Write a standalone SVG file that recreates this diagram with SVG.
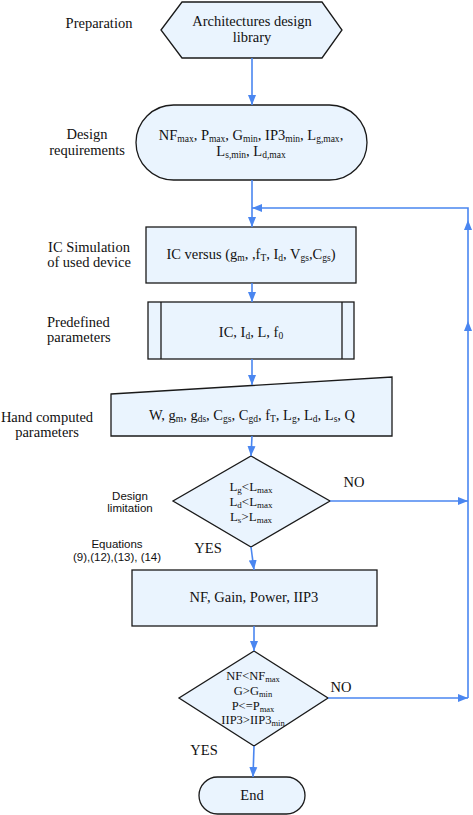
<svg xmlns="http://www.w3.org/2000/svg" width="473" height="815" viewBox="0 0 473 815">
<style>
.n{fill:#EAF4FE;stroke:#1a1a1a;stroke-width:1.3}
.t{font-family:"Liberation Serif","Times New Roman",serif;font-size:14.5px;fill:#111;text-anchor:middle}
.s{font-family:"Liberation Sans",Arial,sans-serif;font-size:11.5px;fill:#111;text-anchor:middle}
.d{font-size:13px}
.e{font-size:12.5px}
.c{fill:none;stroke:#4A86F0;stroke-width:1.6}
</style>
<defs>
<marker id="ah" markerUnits="userSpaceOnUse" markerWidth="10" markerHeight="10" viewBox="0 0 10 10" refX="10" refY="5" orient="auto">
<path d="M0,1 L10,5 L0,9 Z" fill="#4A86F0"/>
</marker>
</defs>
<rect width="473" height="815" fill="#fff"/>

<g id="labels">
<text class="t" x="99" y="28">Preparation</text>
<text class="t" x="87" y="139">Design</text>
<text class="t" x="87" y="155">requirements</text>
<text class="t" x="89" y="252">IC Simulation</text>
<text class="t" x="89" y="267">of used device</text>
<text class="t" x="47" y="327" style="text-anchor:start">Predefined</text>
<text class="t" x="47" y="342" style="text-anchor:start">parameters</text>
<text class="t" x="47" y="422">Hand computed</text>
<text class="t" x="47" y="437">parameters</text>
<text class="s" x="130" y="500">Design</text>
<text class="s" x="130" y="512">limitation</text>
<text class="s" x="117" y="548">Equations</text>
<text class="s" x="117" y="561">(9),(12),(13), (14)</text>
<text class="t" x="208" y="553">YES</text>
<text class="t" x="354" y="487">NO</text>
<text class="t" x="341" y="692">NO</text>
<text class="t" x="204" y="755">YES</text>
</g>

<g id="n1">
<polygon class="n" points="161,30 182,2 322,2 342,30 322,58 182,58"/>
<text class="t" x="252" y="26">Architectures design</text>
<text class="t" x="252" y="42">library</text>
</g>

<g id="n2">
<rect class="n" x="136" y="105" width="231" height="75" rx="37.5" ry="37.5"/>
<text class="t" x="251" y="140">NF<tspan font-size="9.5" dy="2">max</tspan><tspan dy="-2">, P</tspan><tspan font-size="9.5" dy="2">max</tspan><tspan dy="-2">, G</tspan><tspan font-size="9.5" dy="2">min</tspan><tspan dy="-2">, IP3</tspan><tspan font-size="9.5" dy="2">min</tspan><tspan dy="-2">, L</tspan><tspan font-size="9.5" dy="2">g,max</tspan><tspan dy="-2">,</tspan></text>
<text class="t" x="251" y="156">L<tspan font-size="9.5" dy="2">s,min</tspan><tspan dy="-2">, L</tspan><tspan font-size="9.5" dy="2">d,max</tspan></text>
</g>

<g id="n3">
<rect class="n" x="146" y="227" width="210" height="56"/>
<text class="t" x="251" y="259">IC versus (g<tspan font-size="9.5" dy="2">m</tspan><tspan dy="-2">, ,f</tspan><tspan font-size="9.5" dy="2">T</tspan><tspan dy="-2">, I</tspan><tspan font-size="9.5" dy="2">d</tspan><tspan dy="-2">, V</tspan><tspan font-size="9.5" dy="2">gs</tspan><tspan dy="-2">,C</tspan><tspan font-size="9.5" dy="2">gs</tspan><tspan dy="-2">)</tspan></text>
</g>

<g id="n4">
<rect class="n" x="148" y="302" width="206" height="57"/>
<line x1="161" y1="302" x2="161" y2="359" stroke="#1a1a1a" stroke-width="1.3"/>
<line x1="342" y1="302" x2="342" y2="359" stroke="#1a1a1a" stroke-width="1.3"/>
<text class="t" x="251" y="337">IC, I<tspan font-size="9.5" dy="2">d</tspan><tspan dy="-2">, L, f</tspan><tspan font-size="9.5" dy="2">0</tspan></text>
</g>

<g id="n5">
<polygon class="n" points="111,394 392,377 392,436 111,436"/>
<text class="t" x="252" y="420">W, g<tspan font-size="9.5" dy="2">m</tspan><tspan dy="-2">, g</tspan><tspan font-size="9.5" dy="2">ds</tspan><tspan dy="-2">, C</tspan><tspan font-size="9.5" dy="2">gs</tspan><tspan dy="-2">, C</tspan><tspan font-size="9.5" dy="2">gd</tspan><tspan dy="-2">, f</tspan><tspan font-size="9.5" dy="2">T</tspan><tspan dy="-2">, L</tspan><tspan font-size="9.5" dy="2">g</tspan><tspan dy="-2">, L</tspan><tspan font-size="9.5" dy="2">d</tspan><tspan dy="-2">, L</tspan><tspan font-size="9.5" dy="2">s</tspan><tspan dy="-2">, Q</tspan></text>
</g>

<g id="n6">
<polygon class="n" points="251,456 330,501 251,547 173,501"/>
<text class="t d" x="251" y="491">L<tspan font-size="9" dy="2">g</tspan><tspan dy="-2">&lt;L</tspan><tspan font-size="9" dy="2">max</tspan></text>
<text class="t d" x="251" y="506">L<tspan font-size="9" dy="2">d</tspan><tspan dy="-2">&lt;L</tspan><tspan font-size="9" dy="2">max</tspan></text>
<text class="t d" x="251" y="521">L<tspan font-size="9" dy="2">s</tspan><tspan dy="-2">&gt;L</tspan><tspan font-size="9" dy="2">max</tspan></text>
</g>

<g id="n7">
<rect class="n" x="132" y="570" width="245" height="56"/>
<text class="t" x="254" y="602">NF, Gain, Power, IIP3</text>
</g>

<g id="n8">
<polygon class="n" points="254,651 328,698 254,746 179,698"/>
<text class="t e" x="253" y="680">NF&lt;NF<tspan font-size="8.5" dy="1.5">max</tspan></text>
<text class="t e" x="253" y="695">G&gt;G<tspan font-size="8.5" dy="1.5">min</tspan></text>
<text class="t e" x="253" y="710">P&lt;=P<tspan font-size="8.5" dy="1.5">max</tspan></text>
<text class="t e" x="253" y="724">IIP3&gt;IIP3<tspan font-size="8.5" dy="1.5">min</tspan></text>
</g>

<g id="n9">
<rect class="n" x="199" y="777" width="106" height="37" rx="18.5" ry="18.5"/>
<text class="t" x="252" y="800">End</text>
</g>

<g id="connectors">
<path class="c" d="M252,58 V105" marker-end="url(#ah)"/>
<path class="c" d="M252,180 V227" marker-end="url(#ah)"/>
<path class="c" d="M252,283 V302" marker-end="url(#ah)"/>
<path class="c" d="M252,359 V385" marker-end="url(#ah)"/>
<path class="c" d="M252,436 L251,456" marker-end="url(#ah)"/>
<path class="c" d="M251,547 L254,570" marker-end="url(#ah)"/>
<path class="c" d="M254,626 V651" marker-end="url(#ah)"/>
<path class="c" d="M254,746 L253,777" marker-end="url(#ah)"/>
<path class="c" d="M330,501 H468" marker-end="url(#ah)"/>
<path class="c" d="M328,698 H468" marker-end="url(#ah)"/>
<path class="c" d="M468,698 V321" marker-end="url(#ah)"/>
<path class="c" d="M468,321 V220" marker-end="url(#ah)"/>
<path class="c" d="M468,220 V208 H252" marker-end="url(#ah)"/>
</g>
</svg>
